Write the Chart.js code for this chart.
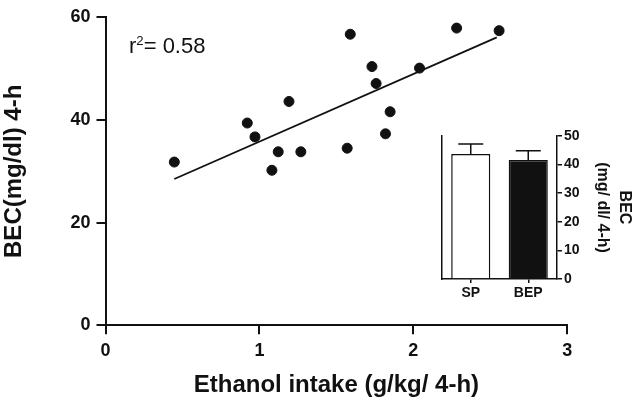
<!DOCTYPE html>
<html>
<head>
<meta charset="utf-8">
<script src="https://cdn.jsdelivr.net/npm/chart.js@4"></script>
<style>
  html, body { margin: 0; padding: 0; background: #fff; }
  #wrap { position: relative; width: 638px; height: 405px; }
  #mainChart { position: absolute; left: 0; top: 0; }
  #insetChart { position: absolute; left: 420px; top: 118px; }
  #r2 {
    position: absolute; left: 129px; top: 35px;
    font-family: 'Liberation Sans', Arial, sans-serif;
    font-size: 22px; line-height: 1; color: #111;
  }
  #r2 sup { font-size: 0.6em; vertical-align: 0.6em; line-height: 0; }
</style>
</head>
<body>
<div id="wrap">
  <canvas id="mainChart" width="638" height="405"></canvas>
  <canvas id="insetChart" width="218" height="190"></canvas>
  <div id="r2">r<sup>2</sup>= 0.58</div>
</div>
<script>
// datos del scatter (ingesta vs BEC)
const intake = [0.447, 0.921, 0.971, 1.081, 1.122, 1.192, 1.269, 1.570, 1.590,
                1.731, 1.758, 1.819, 1.849, 2.040, 2.281, 2.557];
const bec = [31.8, 39.4, 36.7, 30.2, 33.8, 43.6, 33.8, 34.5, 56.7,
             50.4, 47.1, 37.3, 41.6, 50.1, 57.9, 57.4];
// recta de regresion (extremos)
const fitX = [0.447, 2.542];
const fitY = [28.5, 56.1];
const xTicks = [0, 1, 2, 3];
const yTicks = [0, 20, 40, 60];

// inset: media +/- SEM por grupo
const groups = ['SP', 'BEP'];
const groupMean = [43.7, 41.6];
const groupSem = [3.5, 3.2];
const insetTicks = [0, 10, 20, 30, 40, 50];

const FONT = "'Liberation Sans', Arial, sans-serif";
const INK = '#111';

Chart.defaults.font.family = FONT;
Chart.defaults.color = INK;
Chart.defaults.animation = false;

const setTicks = arr => scale => { scale.ticks = arr.map(v => ({ value: v })); };

// ========================================================================
// GRAFICA PRINCIPAL: scatter + regresion
// ========================================================================
new Chart(document.getElementById('mainChart'), {
    type: 'scatter',
    data: {
        datasets: [{
            data: intake.map((x, i) => ({ x: x, y: bec[i] })),
            backgroundColor: INK,
            borderColor: INK,
            pointRadius: 5,
            pointHoverRadius: 5
        }, {
            type: 'line',
            data: fitX.map((x, i) => ({ x: x, y: fitY[i] })),
            borderColor: INK,
            borderWidth: 1.8,
            pointRadius: 0,
            fill: false
        }]
    },
    options: {
        responsive: false,
        devicePixelRatio: 1,
        layout: { padding: { left: 0, right: 70.7, top: 17.3, bottom: 0 } },
        scales: {
            x: {
                type: 'linear',
                min: 0, max: 3,
                afterBuildTicks: setTicks(xTicks),
                afterFit: s => { s.height = 405 - 325.3; },
                grid: { drawOnChartArea: false, drawTicks: true, tickLength: 9, color: INK, lineWidth: 2 },
                border: { display: true, color: INK, width: 2 },
                ticks: { font: { size: 18, weight: 'bold' }, padding: 6, color: INK },
                title: {
                    display: true,
                    text: 'Ethanol intake (g/kg/ 4-h)',
                    font: { size: 24, weight: 'bold' },
                    color: INK,
                    padding: { top: 0, bottom: 5 }
                }
            },
            y: {
                type: 'linear',
                min: 0, max: 60,
                afterBuildTicks: setTicks(yTicks),
                afterFit: s => { s.width = 105.5; },
                grid: { drawOnChartArea: false, drawTicks: true, tickLength: 9, color: INK, lineWidth: 2 },
                border: { display: true, color: INK, width: 2 },
                ticks: { font: { size: 18, weight: 'bold' }, padding: 6, color: INK },
                title: {
                    display: true,
                    text: 'BEC(mg/dl) 4-h',
                    font: { size: 24, weight: 'bold' },
                    color: INK,
                    padding: { top: 0, bottom: 0 }
                }
            }
        },
        plugins: {
            legend: { display: false },
            tooltip: { enabled: false }
        }
    }
});

// ========================================================================
// INSET: barras con error (solo hacia arriba)
// ========================================================================
const errorBars = {
    id: 'errorBars',
    afterDatasetsDraw(chart) {
        const ctx = chart.ctx;
        const yScale = chart.scales.y;
        const meta = chart.getDatasetMeta(0);
        ctx.save();
        ctx.strokeStyle = INK;
        ctx.lineWidth = 1.5;
        meta.data.forEach((bar, i) => {
            const yTop = yScale.getPixelForValue(groupMean[i] + groupSem[i]);
            ctx.beginPath();
            ctx.moveTo(bar.x, bar.y);
            ctx.lineTo(bar.x, yTop);
            ctx.moveTo(bar.x - 12.5, yTop);
            ctx.lineTo(bar.x + 12.5, yTop);
            ctx.stroke();
        });
        ctx.restore();
    }
};

new Chart(document.getElementById('insetChart'), {
    type: 'bar',
    data: {
        labels: groups,
        datasets: [{
            data: groupMean,
            backgroundColor: ['#ffffff', INK],
            borderColor: INK,
            borderWidth: 1.5,
            barPercentage: 0.68,
            categoryPercentage: 1
        }]
    },
    options: {
        responsive: false,
        devicePixelRatio: 1,
        layout: { padding: { left: 0, right: 0, top: 18, bottom: 0 } },
        scales: {
            x: {
                afterFit: s => { s.height = 29; },
                grid: { offset: false, drawOnChartArea: false, drawTicks: true, tickLength: 4, color: INK, lineWidth: 1.5 },
                border: { display: true, color: INK, width: 1.5 },
                ticks: { font: { size: 14, weight: 'bold' }, padding: 2, color: INK }
            },
            y: {
                position: 'right',
                min: 0, max: 50,
                afterBuildTicks: setTicks(insetTicks),
                afterFit: s => { s.width = 81; },
                grid: { drawOnChartArea: false, drawTicks: true, tickLength: 5, color: INK, lineWidth: 1.5 },
                border: { display: true, color: INK, width: 1.5 },
                ticks: { font: { size: 14, weight: 'bold' }, padding: 2, color: INK },
                title: {
                    display: true,
                    text: ['BEC', '(mg/ dl/ 4-h)'],
                    font: { size: 16, weight: 'bold', lineHeight: 1.35 },
                    color: INK,
                    padding: { top: 3, bottom: 0 }
                }
            },
            yl: {
                position: 'left',
                min: 0, max: 50,
                afterFit: s => { s.width = 22; },
                grid: { drawOnChartArea: false, drawTicks: false },
                border: { display: true, color: INK, width: 1.5 },
                ticks: { display: false }
            }
        },
        plugins: {
            legend: { display: false },
            tooltip: { enabled: false }
        }
    },
    plugins: [errorBars]
});
</script>
</body>
</html>
